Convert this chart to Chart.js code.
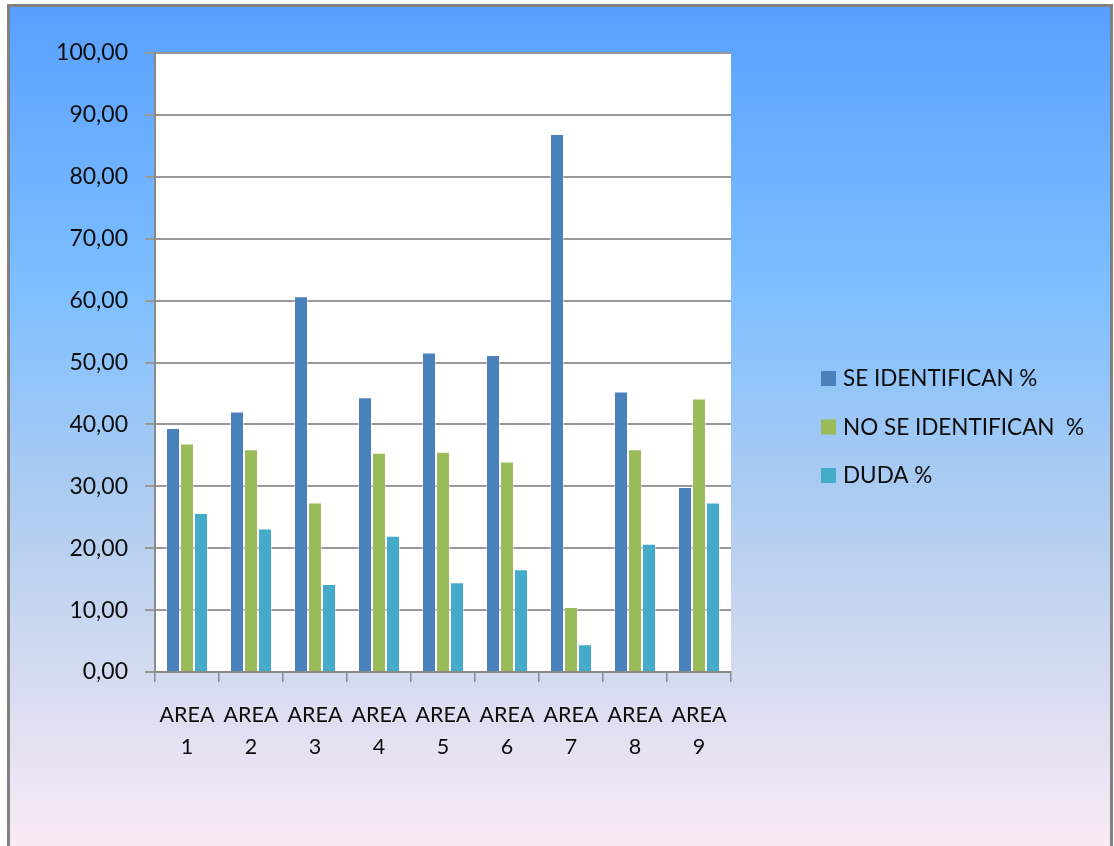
<!DOCTYPE html>
<html>
<head>
<meta charset="utf-8">
<script src="https://cdn.jsdelivr.net/npm/chart.js@4"></script>
<style>
  html, body { margin: 0; padding: 0; background: #fff; overflow: hidden; }
  #frame {
    position: absolute; left: 7px; top: 4px;
    width: 1100px; height: 842px;
    border: 3px solid #808080; border-bottom: none;
  }
</style>
</head>
<body>
<div id="frame"><canvas id="chart"></canvas></div>
<script>
const categories = [["AREA", "1"], ["AREA", "2"], ["AREA", "3"], ["AREA", "4"], ["AREA", "5"],
                    ["AREA", "6"], ["AREA", "7"], ["AREA", "8"], ["AREA", "9"]];
const seIdentifican = [39.4, 42.1, 60.7, 44.4, 51.6, 51.2, 86.9, 45.3, 29.9];
const noSeIdentifican = [36.9, 36.0, 27.4, 35.4, 35.6, 34.0, 10.5, 36.0, 44.2];
const duda = [25.7, 23.2, 14.2, 22.0, 14.5, 16.6, 4.5, 20.7, 27.4];
const seriesNames = ["SE IDENTIFICAN %", "NO SE IDENTIFICAN  %", "DUDA %"];
const seriesColors = ["#4a81bd", "#9bbb59", "#43abc8"];

const FONT = "Lato, 'Open Sans', sans-serif";

// gradient background + white plot area
const backdrop = {
  id: "backdrop",
  beforeDraw(chart) {
    const ctx = chart.ctx, a = chart.chartArea;
    const g = ctx.createLinearGradient(0, 0, 0, chart.height);
    g.addColorStop(0, "#58a0ff");
    g.addColorStop(0.35, "#80c0ff");
    g.addColorStop(0.6, "#b0cdf0");
    g.addColorStop(0.8, "#d6dcf0");
    g.addColorStop(1, "#fbeaf6");
    ctx.save();
    ctx.fillStyle = g;
    ctx.fillRect(0, 0, chart.width, chart.height);
    ctx.fillStyle = "#ffffff";
    ctx.fillRect(a.left, a.top, a.right - a.left, a.bottom - a.top);
    ctx.restore();
  }
};

// legend on the right side
const sideLegend = {
  id: "sideLegend",
  afterDraw(chart) {
    const ctx = chart.ctx;
    ctx.save();
    ctx.font = "22.5px " + FONT;
    ctx.textBaseline = "middle";
    chart.data.datasets.forEach((ds, i) => {
      const y = 371 + i * 48.5;
      ctx.fillStyle = ds.backgroundColor;
      ctx.fillRect(811, y - 7, 15, 15);
      ctx.fillStyle = "#0d0d0d";
      ctx.fillText(ds.label, 833, y + 1);
    });
    ctx.restore();
  }
};

new Chart(document.getElementById("chart"), {
  type: "bar",
  data: {
    labels: categories,
    datasets: [seIdentifican, noSeIdentifican, duda].map((d, i) => ({
      label: seriesNames[i],
      data: d,
      backgroundColor: seriesColors[i],
      borderColor: "rgba(255,255,255,0.45)",
      borderWidth: 1,
      categoryPercentage: 0.656,
      barPercentage: 1.0
    }))
  },
  options: {
    responsive: true,
    maintainAspectRatio: false,
    animation: false,
    layout: { padding: { top: 46, right: 379, left: 0, bottom: 0 } },
    plugins: { legend: { display: false }, tooltip: { enabled: false } },
    scales: {
      x: {
        grid: { offset: true, drawOnChartArea: false, drawTicks: true, tickLength: 10, color: "#8a8a8a", lineWidth: 1.5 },
        border: { color: "#8a8a8a", width: 2 },
        ticks: { color: "#0d0d0d", font: { family: FONT, size: 21.5, lineHeight: 1.49 }, padding: 17, maxRotation: 0, autoSkip: false },
        afterFit(scale) { scale.height = 177; }
      },
      y: {
        min: 0, max: 100,
        grid: { color: "#999", lineWidth: 2, tickLength: 10 },
        border: { color: "#8a8a8a", width: 2 },
        ticks: {
          stepSize: 10, padding: 17, color: "#0d0d0d",
          font: { family: FONT, size: 23 },
          callback: v => v.toFixed(2).replace(".", ",")
        },
        afterFit(scale) { scale.width = 145; }
      }
    }
  },
  plugins: [backdrop, sideLegend]
});
</script>
</body>
</html>
